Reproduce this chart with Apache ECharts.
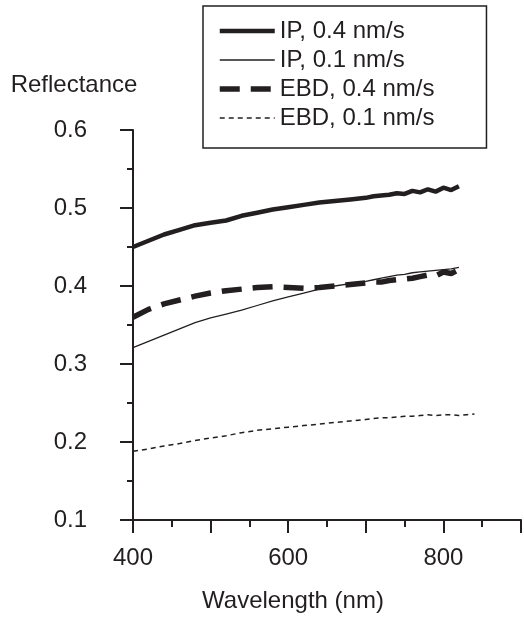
<!DOCTYPE html>
<html>
<head>
<meta charset="utf-8">
<script src="https://cdn.jsdelivr.net/npm/echarts@6/dist/echarts.min.js"></script>
<style>
  html, body { margin: 0; padding: 0; background: #fff; }
  #chart { width: 524px; height: 620px; }
</style>
</head>
<body>
<div id="chart"></div>
<script>
// wavelength (nm)
const wavelengths = [400, 420, 440, 460, 480, 500, 520, 540, 560, 580, 600, 620, 640, 660, 680, 700,
  710, 720, 730, 740, 750, 760, 770, 780, 790, 800, 810, 820, 830, 840]

const ip04 = [0.450, 0.458, 0.466, 0.472, 0.478, 0.481, 0.484, 0.490, 0.494, 0.498, 0.501, 0.504, 0.507, 0.509, 0.511, 0.513,
  0.515, 0.516, 0.517, 0.519, 0.518, 0.522, 0.520, 0.524, 0.521, 0.526, 0.523, 0.528, null, null]
const ip01 = [0.321, 0.329, 0.337, 0.345, 0.353, 0.359, 0.364, 0.369, 0.375, 0.381, 0.386, 0.391, 0.396, 0.400, 0.403, 0.406,
  0.408, 0.410, 0.412, 0.414, 0.415, 0.417, 0.418, 0.419, 0.420, 0.421, 0.422, 0.424, null, null]
const ebd04 = [0.360, 0.370, 0.377, 0.382, 0.387, 0.391, 0.394, 0.396, 0.398, 0.399, 0.398, 0.397, 0.398, 0.400, 0.402, 0.404,
  0.405, 0.405, 0.407, 0.408, 0.409, 0.410, 0.412, 0.414, 0.413, 0.418, 0.416, 0.421, null, null]
const ebd01 = [0.188, 0.191, 0.195, 0.198, 0.202, 0.205, 0.208, 0.212, 0.215, 0.217, 0.219, 0.221, 0.223, 0.225, 0.227, 0.229,
  0.230, 0.231, 0.231, 0.232, 0.233, 0.233, 0.234, 0.235, 0.234, 0.235, 0.235, 0.234, 0.235, 0.236]

const seriesNames = ['IP, 0.4 nm/s', 'IP, 0.1 nm/s', 'EBD, 0.4 nm/s', 'EBD, 0.1 nm/s']
const xLabels = [400, 600, 800]

const font = 'Liberation Sans, Arial, sans-serif'
const ink = '#231f20'

// line looks per series, shared by plot and legend
const styles = [
  { color: ink, width: 4.5, type: 'solid' },
  { color: ink, width: 1.3, type: 'solid' },
  { color: ink, width: 5.5, type: [20, 11] },
  { color: ink, width: 1.5, type: [5, 4] }
]
const seriesData = [ip04, ip01, ebd04, ebd01]

function pairs(vals) {
  return wavelengths.map((w, i) => [w, vals[i]]).filter(p => p[1] !== null)
}

const chart = echarts.init(document.getElementById('chart'))
chart.setOption({
  animation: false,
  color: [ink, ink, ink, ink],
  textStyle: { fontFamily: font, color: ink },
  grid: { left: 133, right: 1, top: 130, bottom: 100 },
  legend: {
    orient: 'vertical',
    left: 203,
    top: 6,
    borderColor: ink,
    borderWidth: 1.5,
    padding: [13, 52, 18, 14],
    itemWidth: 55,
    itemHeight: 14,
    itemGap: 5,
    textStyle: { fontSize: 24, color: ink, fontFamily: font },
    data: seriesNames.map((name, i) => ({
      name: name,
      itemStyle: { opacity: 0 },
      lineStyle: { color: ink, width: styles[i].width, type: styles[i].type }
    }))
  },
  xAxis: {
    type: 'value',
    min: 400,
    max: 900,
    interval: 100,
    name: 'Wavelength (nm)',
    nameLocation: 'middle',
    nameGap: 69,
    nameTextStyle: { fontSize: 24, color: ink, padding: [0, 68, 0, 0] },
    splitLine: { show: false },
    axisLine: { lineStyle: { color: ink, width: 2 } },
    axisTick: { length: 13, lineStyle: { color: ink, width: 2 } },
    minorTick: { show: true, splitNumber: 2, length: 7, lineStyle: { color: ink, width: 2 } },
    axisLabel: {
      fontSize: 24,
      color: ink,
      margin: 26,
      formatter: v => (xLabels.includes(v) ? String(v) : '')
    }
  },
  yAxis: {
    type: 'value',
    min: 0.1,
    max: 0.6,
    interval: 0.1,
    name: 'Reflectance',
    nameLocation: 'end',
    nameGap: 33,
    nameTextStyle: { fontSize: 24, color: ink, padding: [0, 118, 0, 0] },
    splitLine: { show: false },
    axisLine: { show: true, lineStyle: { color: ink, width: 2 } },
    axisTick: { show: true, length: 13, lineStyle: { color: ink, width: 2 } },
    minorTick: { show: true, splitNumber: 2, length: 6, lineStyle: { color: ink, width: 2 } },
    axisLabel: { fontSize: 24, color: ink, margin: 46, formatter: v => v.toFixed(1) }
  },
  series: seriesNames.map((name, i) => ({
    name: name,
    type: 'line',
    symbol: 'none',
    data: pairs(seriesData[i]),
    lineStyle: styles[i]
  }))
})
</script>
</body>
</html>
